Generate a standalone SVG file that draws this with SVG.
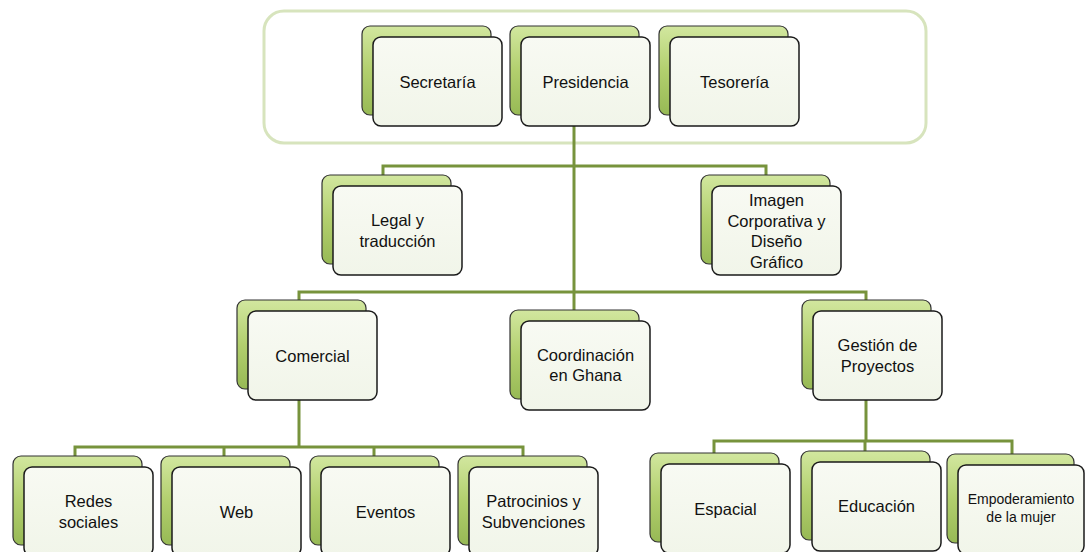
<svg xmlns="http://www.w3.org/2000/svg" width="1085" height="552" viewBox="0 0 1085 552">
<defs>
<linearGradient id="gb" x1="0" y1="0" x2="0" y2="1">
<stop offset="0" stop-color="#d2e79f"/>
<stop offset="0.5" stop-color="#b2cf6e"/>
<stop offset="1" stop-color="#97b955"/>
</linearGradient>
<linearGradient id="gf" x1="0" y1="0" x2="0" y2="1">
<stop offset="0" stop-color="#f8faf3"/>
<stop offset="1" stop-color="#f1f5e9"/>
</linearGradient>
</defs>
<style>
.back{fill:url(#gb);stroke:#333;stroke-width:1.2}
.front{fill:url(#gf);stroke:#1a1a1a;stroke-width:1.5}
text{font-family:"Liberation Sans",Arial,sans-serif;font-size:16.5px;fill:#111;text-anchor:middle;dominant-baseline:central}
.sm{font-size:14px}
.conn{fill:none;stroke:#77933c;stroke-width:3}
</style>
<rect x="264" y="11" width="662" height="132" rx="20" fill="#ffffff" stroke="#d7e4bd" stroke-width="3"/>
<g id="connectors">
<path class="conn" d="M574,126 V310"/>
<path class="conn" d="M383,175 V166 H766 V175"/>
<path class="conn" d="M299,300 V292 H866 V300"/>
<path class="conn" d="M299,398 V447"/>
<path class="conn" d="M75,456 V447 H523 V456 M224,447 V456 M374,447 V456"/>
<path class="conn" d="M866,398 V441"/>
<path class="conn" d="M714,453 V441 H1012 V454 M865,441 V451"/>
</g>
<g id="secretaria"><rect class="back" x="362" y="26" width="129" height="89" rx="8"/><rect class="front" x="373" y="37" width="129" height="89" rx="8"/><text x="437.5" y="81.5">Secretaría</text></g>
<g id="presidencia"><rect class="back" x="510" y="26" width="129" height="89" rx="8"/><rect class="front" x="521" y="37" width="129" height="89" rx="8"/><text x="585.5" y="81.5">Presidencia</text></g>
<g id="tesoreria"><rect class="back" x="659" y="26" width="129" height="89" rx="8"/><rect class="front" x="670" y="37" width="129" height="89" rx="8"/><text x="734.5" y="81.5">Tesorería</text></g>
<g id="legal"><rect class="back" x="322" y="175" width="129" height="89" rx="8"/><rect class="front" x="333" y="186" width="129" height="89" rx="8"/><text x="397.5" y="220">Legal y</text><text x="397.5" y="241">traducción</text></g>
<g id="imagen"><rect class="back" x="701" y="175" width="129" height="89" rx="8"/><rect class="front" x="712" y="186" width="129" height="89" rx="8"/><text x="776.5" y="200">Imagen</text><text x="776.5" y="220.5">Corporativa y</text><text x="776.5" y="241">Diseño</text><text x="776.5" y="261.5">Gráfico</text></g>
<g id="comercial"><rect class="back" x="237" y="300" width="129" height="89" rx="8"/><rect class="front" x="248" y="311" width="129" height="89" rx="8"/><text x="312.5" y="355.5">Comercial</text></g>
<g id="coordinacion"><rect class="back" x="510" y="310" width="129" height="89" rx="8"/><rect class="front" x="521" y="321" width="129" height="89" rx="8"/><text x="585.5" y="354.5">Coordinación</text><text x="585.5" y="375">en Ghana</text></g>
<g id="gestion"><rect class="back" x="802" y="300" width="129" height="89" rx="8"/><rect class="front" x="813" y="311" width="129" height="89" rx="8"/><text x="877.5" y="345">Gestión de</text><text x="877.5" y="366">Proyectos</text></g>
<g id="redes"><rect class="back" x="13" y="456" width="129" height="89" rx="8"/><rect class="front" x="24" y="467" width="129" height="89" rx="8"/><text x="88.5" y="501">Redes</text><text x="88.5" y="522">sociales</text></g>
<g id="web"><rect class="back" x="161" y="456" width="129" height="89" rx="8"/><rect class="front" x="172" y="467" width="129" height="89" rx="8"/><text x="236.5" y="511.5">Web</text></g>
<g id="eventos"><rect class="back" x="310" y="456" width="129" height="89" rx="8"/><rect class="front" x="321" y="467" width="129" height="89" rx="8"/><text x="385.5" y="511.5">Eventos</text></g>
<g id="patrocinios"><rect class="back" x="458" y="456" width="129" height="89" rx="8"/><rect class="front" x="469" y="467" width="129" height="89" rx="8"/><text x="533.5" y="501">Patrocinios y</text><text x="533.5" y="522">Subvenciones</text></g>
<g id="espacial"><rect class="back" x="650" y="453" width="129" height="89" rx="8"/><rect class="front" x="661" y="464" width="129" height="89" rx="8"/><text x="725.5" y="508.5">Espacial</text></g>
<g id="educacion"><rect class="back" x="801" y="451" width="129" height="89" rx="8"/><rect class="front" x="812" y="462" width="129" height="89" rx="8"/><text x="876.5" y="506">Educación</text></g>
<g id="empoderamiento"><rect class="back" x="947" y="454" width="127" height="89" rx="8"/><rect class="front" x="958" y="465" width="126" height="89" rx="8"/><text class="sm" x="1021" y="499">Empoderamiento</text><text class="sm" x="1021" y="517">de la mujer</text></g>
</svg>
